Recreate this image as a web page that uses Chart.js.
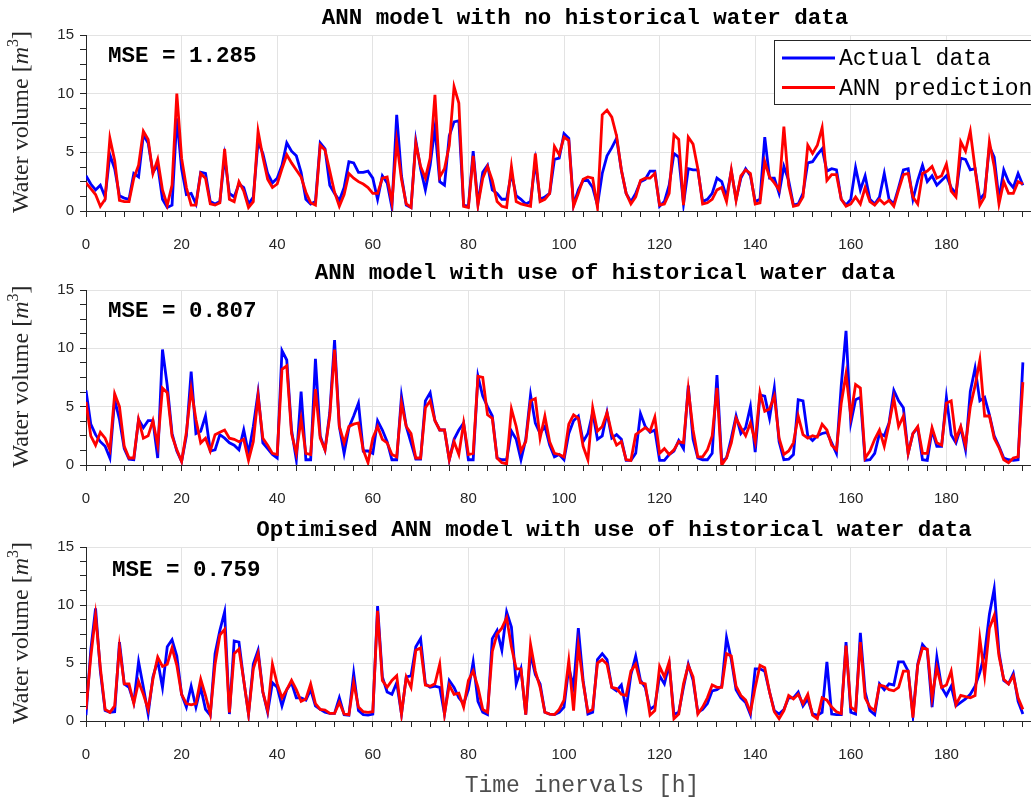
<!DOCTYPE html>
<html>
<head>
<meta charset="utf-8">
<script src="https://cdn.jsdelivr.net/npm/chart.js@4"></script>
<style>
  html, body { margin: 0; padding: 0; background: #fff; overflow: hidden; }
  .box { position: absolute; left: 0; width: 1070px; }
</style>
</head>
<body>
<div class="box" style="top:0;height:260px"><canvas id="c1" width="1070" height="260"></canvas></div>
<div class="box" style="top:260px;height:255px"><canvas id="c2" width="1070" height="255"></canvas></div>
<div class="box" style="top:515px;height:283px"><canvas id="c3" width="1070" height="283"></canvas></div>
<script>
// time intervals [h]
const hours = Array.from({length: 197}, (_, i) => i);

// ANN model with no historical water data
const actualNoHist = [3.0,2.3,1.8,2.2,1.2,4.8,3.6,1.3,1.1,1.0,3.2,2.9,6.5,5.8,3.3,3.9,1.0,0.3,0.5,7.9,
  3.6,1.4,1.5,0.6,3.3,3.2,0.8,0.6,0.8,4.6,1.5,1.2,2.3,2.0,0.6,1.2,5.9,4.9,3.2,2.4,
  2.8,3.9,5.8,5.1,4.7,3.3,1.0,0.6,0.8,5.8,5.3,2.2,1.5,0.9,2.0,4.2,4.1,3.3,3.3,3.4,
  2.8,1.0,3.0,2.4,0.3,8.2,3.0,0.5,0.3,6.0,3.6,1.8,3.9,7.1,2.5,2.2,6.4,7.6,7.7,0.5,
  0.4,5.1,0.6,3.3,3.9,1.8,1.5,1.0,1.0,3.2,1.3,1.0,0.6,0.8,4.2,1.0,1.2,1.5,4.4,4.5,
  6.6,6.2,0.5,1.8,2.6,2.6,2.0,0.5,3.2,4.7,5.4,6.2,3.5,1.5,0.8,1.5,2.5,2.7,3.4,3.4,
  0.4,0.8,2.2,4.9,4.6,0.6,3.6,3.5,3.5,0.8,1.0,1.5,2.8,2.5,1.2,3.4,1.0,2.8,3.6,3.0,
  0.8,1.0,6.3,2.8,2.8,1.5,3.8,2.6,0.5,0.6,1.5,4.1,4.2,4.8,5.3,3.4,3.6,3.5,1.0,0.5,
  1.0,3.7,1.8,3.0,1.0,0.6,1.2,3.2,1.0,0.6,2.0,3.5,3.6,1.0,2.6,3.9,2.5,3.0,2.2,2.6,
  3.0,2.0,1.5,4.5,4.4,3.5,3.6,1.0,1.5,5.5,4.6,1.0,3.5,2.5,2.0,3.2,2.2];
const predNoHist = [2.4,1.9,1.4,0.4,1.0,6.2,4.3,0.9,0.8,0.8,2.8,3.9,6.8,6.1,3.2,4.4,1.8,0.5,2.2,10.0,
  4.5,2.0,0.5,0.5,3.2,2.8,0.6,0.5,0.7,5.3,1.0,0.8,2.5,1.7,0.3,0.8,6.8,4.6,2.7,2.0,
  2.3,3.6,4.8,4.1,3.5,2.9,1.6,0.7,0.5,5.6,5.2,3.4,1.6,0.4,1.4,3.2,2.8,2.5,2.3,2.0,
  1.5,1.5,2.8,2.9,0.7,5.9,2.7,0.6,0.3,5.8,3.8,2.8,4.5,9.9,2.9,3.6,5.6,10.6,9.2,0.4,
  0.3,4.7,0.5,2.8,3.8,2.6,0.8,0.4,0.3,3.8,0.8,0.6,0.5,0.4,4.9,0.8,1.0,1.5,5.5,4.8,
  6.3,6.0,0.4,1.5,2.7,2.9,2.8,0.3,8.2,8.6,8.0,6.4,3.5,1.5,0.6,1.2,2.6,2.8,2.8,3.2,
  0.5,0.6,1.5,6.5,6.1,0.5,6.3,5.7,3.6,0.6,0.7,1.0,1.8,2.0,0.8,3.5,0.9,3.0,3.5,3.2,
  0.6,0.7,4.2,2.9,2.4,1.8,7.2,2.2,0.4,0.5,1.2,5.6,4.9,5.6,7.1,2.6,3.1,3.1,1.0,0.4,
  0.6,1.2,0.6,2.0,0.8,0.5,1.0,0.6,0.9,0.4,1.8,3.1,3.2,1.2,0.6,3.2,3.4,3.8,2.8,3.0,
  4.0,1.7,1.2,5.9,5.1,6.8,3.6,0.5,1.2,5.9,3.8,0.6,2.5,1.5,1.5,2.5,2.3];

// ANN model with use of historical water data
const actualHist = [6.4,3.5,2.6,2.0,1.6,0.6,5.6,3.9,1.4,0.5,0.45,3.9,3.2,3.8,3.8,0.6,9.9,6.8,2.7,1.2,
  0.3,2.5,8.0,2.7,2.9,4.2,1.2,1.3,2.6,2.3,1.9,1.7,1.3,3.0,1.0,3.3,6.2,1.9,1.4,0.9,
  0.6,9.8,9.0,3.0,0.45,6.3,0.45,0.45,9.1,2.5,1.3,4.5,10.7,3.3,1.0,3.2,4.2,5.3,1.2,1.2,
  1.0,3.8,3.0,2.0,0.45,0.45,5.9,3.3,1.9,0.5,0.5,5.5,6.2,3.8,3.0,3.0,0.45,2.2,3.0,3.6,
  0.45,0.45,7.6,5.9,5.0,4.2,0.6,0.45,0.45,2.9,2.2,0.45,2.2,6.0,3.6,2.7,3.3,1.7,0.7,0.9,
  0.45,2.7,3.8,4.2,2.0,2.7,4.5,2.2,2.5,4.5,2.3,2.6,2.2,0.4,0.4,1.0,4.4,3.3,2.8,3.0,
  0.4,0.4,0.9,1.2,2.1,1.4,6.8,2.2,0.6,0.45,0.45,1.0,7.7,0.3,0.6,2.3,4.2,2.7,3.2,5.0,
  1.1,6.0,5.9,4.0,6.6,2.0,0.45,0.5,0.9,5.6,5.5,2.5,2.1,2.5,2.7,2.8,1.9,1.0,6.8,11.5,
  3.6,5.6,5.8,0.4,0.45,1.0,2.7,2.5,3.6,6.4,5.5,4.9,1.0,2.7,3.2,0.45,0.4,3.0,1.6,1.6,
  5.8,2.6,1.9,3.2,1.3,6.3,8.3,5.5,5.8,4.3,2.5,1.6,0.6,0.45,0.4,0.45,8.8];
const predHist = [5.4,2.5,1.7,2.8,2.3,1.3,6.1,5.0,1.6,0.6,0.6,3.9,2.3,2.5,3.8,1.7,6.6,6.2,2.5,1.3,
  0.3,2.8,6.5,3.9,1.9,2.3,1.2,2.6,2.8,3.0,2.3,2.2,2.0,2.2,0.4,2.0,5.9,2.3,1.7,1.0,
  0.9,8.2,8.5,2.7,1.0,3.95,1.0,0.9,6.5,2.3,1.3,4.2,9.9,3.3,1.9,3.3,3.5,3.6,1.3,0.2,
  2.3,3.3,2.2,1.9,0.9,0.7,5.3,3.3,2.7,0.6,0.6,4.9,5.5,3.8,3.0,3.0,0.45,2.0,0.9,3.6,
  0.9,1.0,7.6,7.5,4.3,4.0,0.6,0.2,0.1,4.8,3.3,1.2,2.0,5.5,5.7,2.3,4.2,2.0,1.0,0.9,
  0.7,3.5,4.3,4.0,1.6,0.45,4.9,2.9,3.3,4.5,2.7,1.7,2.0,0.45,0.4,2.6,2.9,3.2,2.9,4.1,
  1.0,1.4,0.9,1.3,2.0,1.9,6.5,3.0,0.7,0.7,1.3,2.5,6.6,0.0,0.6,1.9,4.0,3.2,2.5,3.6,
  2.0,6.2,4.6,4.8,5.9,2.3,0.9,1.2,1.9,4.2,2.6,2.3,2.5,2.4,3.5,3.0,1.7,1.3,5.3,7.8,
  4.2,6.9,6.6,0.6,1.2,2.2,3.0,1.6,3.5,5.7,3.3,4.2,1.0,2.7,3.3,1.0,1.0,3.2,1.9,1.7,
  5.3,5.5,2.2,3.3,1.7,5.0,6.8,9.0,4.2,4.2,2.3,1.5,0.45,0.2,0.6,0.7,7.1];

// Optimised ANN model with use of historical water data
const actualOpt = [0.5,6.1,9.7,4.3,0.9,0.75,0.8,6.8,3.2,2.9,1.6,5.1,2.9,0.6,3.8,5.2,2.9,6.4,7.0,5.6,
  2.3,1.2,3.0,1.2,2.9,1.0,0.5,5.8,7.8,9.4,0.6,6.9,6.8,3.5,0.6,4.9,6.1,2.5,0.75,3.3,
  2.9,1.3,2.7,3.3,2.0,2.0,1.8,2.7,1.3,1.0,0.75,0.65,0.65,2.0,0.55,0.5,4.1,0.9,0.55,0.5,
  0.6,9.9,3.8,2.5,2.3,3.3,0.6,3.8,3.9,6.4,7.1,3.2,2.9,3.0,2.9,0.6,3.5,2.9,2.0,1.5,
  2.7,5.1,1.7,0.75,0.55,7.1,7.8,6.1,9.4,8.1,3.2,4.5,0.55,5.8,4.0,3.2,0.75,0.6,0.55,0.75,
  1.2,4.6,2.9,8.0,3.5,0.6,0.75,5.3,5.8,5.3,2.9,2.6,3.1,1.0,4.0,5.6,3.5,2.9,1.0,1.3,
  3.9,3.2,4.9,0.55,0.75,2.9,4.9,3.5,0.75,1.0,1.5,2.6,2.7,3.0,7.2,5.3,2.7,2.0,1.6,0.55,
  4.5,4.5,4.3,2.5,0.9,0.6,1.0,2.0,2.0,2.5,1.3,1.9,0.6,0.5,0.75,5.1,0.6,0.55,0.55,6.8,
  0.75,0.6,7.6,2.5,0.9,0.55,3.2,2.7,3.2,3.1,5.1,5.1,4.3,0.5,4.9,6.6,6.1,1.2,5.5,2.9,
  2.2,3.0,1.3,1.6,1.9,2.3,3.0,4.2,5.8,9.2,11.4,5.9,3.5,3.2,4.1,1.7,0.6];
const predOpt = [1.0,5.5,9.1,4.6,1.0,0.75,1.3,6.4,3.2,3.2,1.5,3.4,2.3,1.0,3.6,5.5,4.7,4.9,6.3,4.8,
  2.3,1.5,1.4,1.5,3.6,2.2,0.6,4.9,7.4,7.9,0.75,5.8,6.2,3.5,0.6,4.5,5.8,2.5,0.9,4.9,
  3.2,2.0,2.7,3.5,2.7,1.7,1.9,3.2,1.5,1.0,0.95,0.65,0.65,1.6,0.6,0.55,3.3,1.2,0.8,0.75,
  0.8,9.5,3.5,2.9,3.5,3.9,0.6,3.8,2.9,6.1,6.3,3.1,3.0,3.2,4.9,0.6,3.1,2.3,2.4,1.2,
  3.5,4.3,2.9,1.0,0.75,6.0,7.5,8.0,8.9,6.4,4.5,4.5,0.55,6.6,4.3,2.9,0.75,0.6,0.55,1.0,
  1.8,5.2,0.9,6.5,3.3,0.8,1.0,5.0,5.3,4.9,2.9,2.8,2.3,2.2,4.3,4.9,3.3,3.2,0.5,0.9,
  4.7,3.8,5.1,0.2,0.6,3.2,4.8,3.8,0.6,1.2,2.0,3.1,2.9,2.9,5.8,5.6,3.0,2.2,1.8,0.75,
  2.9,4.8,4.6,2.5,0.8,0.2,0.9,2.2,1.9,2.3,1.5,2.3,0.5,0.2,2.0,1.8,1.2,0.8,0.65,6.5,
  1.2,0.9,6.8,2.0,1.2,0.9,3.1,3.0,2.7,2.6,2.9,4.3,4.3,0.3,4.8,6.3,6.2,2.0,4.6,2.9,
  3.1,4.3,1.4,2.2,2.1,2.0,2.2,7.1,3.9,8.0,9.1,5.6,3.6,3.2,3.9,2.0,1.0];

const panels = [
  {id: 'c1', actual: actualNoHist, pred: predNoHist, title: 'ANN model with no historical water data',
   titleX: 585, mse: 'MSE = 1.285', mseX: 108, mseDy: 21, top: 35, xh: 49, legend: true, xlabel: false},
  {id: 'c2', actual: actualHist, pred: predHist, title: 'ANN model with use of historical water data',
   titleX: 605, mse: 'MSE = 0.807', mseX: 108, mseDy: 21, top: 30, xh: 50, legend: false, xlabel: false},
  {id: 'c3', actual: actualOpt, pred: predOpt, title: 'Optimised ANN model with use of historical water data',
   titleX: 614, mse: 'MSE = 0.759', mseX: 112, mseDy: 23, top: 32, xh: 77, legend: false, xlabel: true}
];

const AXIS = '#262626';
const GRID = '#e3e3e3';

const deco = {
  id: 'deco',
  afterDraw(chart, args, o) {
    const ctx = chart.ctx, a = chart.chartArea;
    ctx.save();
    ctx.fillStyle = '#000';
    ctx.textBaseline = 'middle';
    ctx.font = 'bold 22.5px "Liberation Mono", monospace';
    ctx.textAlign = 'center';
    ctx.fillText(o.title, o.titleX, a.top - 17);
    ctx.textAlign = 'left';
    ctx.fillText(o.mse, o.mseX, a.top + o.mseDy);

    // y label: Water volume [m^3]
    ctx.save();
    ctx.translate(20, (a.top + a.bottom) / 2 - 1);
    ctx.rotate(-Math.PI / 2);
    ctx.fillStyle = AXIS;
    ctx.textBaseline = 'alphabetic';
    const parts = [
      ['Water volume [', '24px "Liberation Serif", serif', 0],
      ['m', 'italic 24px "Liberation Serif", serif', 0],
      ['3', '16px "Liberation Serif", serif', -10],
      [']', '24px "Liberation Serif", serif', 0]
    ];
    let w = 0;
    parts.forEach(p => { ctx.font = p[1]; w += ctx.measureText(p[0]).width; });
    let x = -w / 2;
    parts.forEach(p => { ctx.font = p[1]; ctx.fillText(p[0], x, 8 + p[2]); x += ctx.measureText(p[0]).width; });
    ctx.restore();

    if (o.legend) {
      ctx.fillStyle = '#fff';
      ctx.fillRect(774.5, 40.5, 300, 64);
      ctx.strokeStyle = AXIS;
      ctx.lineWidth = 1;
      ctx.strokeRect(774.5, 40.5, 300, 64);
      [['Actual data', '#0000ff', 58], ['ANN prediction', '#ff0000', 87.5]].forEach(l => {
        ctx.strokeStyle = l[1];
        ctx.lineWidth = 3;
        ctx.beginPath(); ctx.moveTo(782, l[2]); ctx.lineTo(835, l[2]); ctx.stroke();
        ctx.fillStyle = '#000';
        ctx.font = '23px "Liberation Mono", monospace';
        ctx.textAlign = 'left';
        ctx.textBaseline = 'middle';
        ctx.fillText(l[0], 839, l[2] + 1);
      });
    }
    if (o.xlabel) {
      ctx.fillStyle = '#4d4d4d';
      ctx.font = '23px "Liberation Mono", monospace';
      ctx.textAlign = 'center';
      ctx.fillText('Time inervals [h]', 582, a.bottom + 65);
    }
    ctx.restore();
  }
};

panels.forEach(p => {
  new Chart(document.getElementById(p.id), {
    type: 'line',
    data: {
      labels: hours,
      datasets: [
        {label: 'Actual data', data: p.actual, borderColor: '#0000ff', borderWidth: 2.8, order: 2},
        {label: 'ANN prediction', data: p.pred, borderColor: '#ff0000', borderWidth: 2.8, order: 1}
      ]
    },
    options: {
      responsive: false,
      animation: false,
      devicePixelRatio: 1,
      layout: {padding: {left: 0, right: 28, top: p.top, bottom: 0}},
      elements: {point: {radius: 0}, line: {tension: 0, fill: false}},
      plugins: {
        legend: {display: false},
        tooltip: {enabled: false},
        deco: p
      },
      scales: {
        x: {
          type: 'linear', min: 0, max: 200,
          afterFit: s => { s.height = p.xh; },
          border: {color: AXIS},
          grid: {
            color: c => (c.tick && c.tick.value % 20 === 0) ? GRID : 'rgba(0,0,0,0)',
            tickColor: AXIS, tickLength: 6
          },
          ticks: {
            stepSize: 4, autoSkip: false, maxRotation: 0, padding: 19,
            color: AXIS, font: {family: '"Liberation Sans", Arial', size: 15},
            callback: v => (v % 20 === 0 && v <= 180) ? v : ''
          }
        },
        y: {
          min: 0, max: 15,
          afterFit: s => { s.width = 86; },
          border: {color: AXIS},
          grid: {
            color: c => (c.tick && c.tick.value % 5 === 0) ? GRID : 'rgba(0,0,0,0)',
            tickColor: AXIS, tickLength: 6
          },
          ticks: {
            stepSize: 1.25, autoSkip: false, padding: 6,
            color: AXIS, font: {family: '"Liberation Sans", Arial', size: 15},
            callback: v => (v % 5 === 0) ? v : ''
          }
        }
      }
    },
    plugins: [deco]
  });
});
</script>
</body>
</html>
